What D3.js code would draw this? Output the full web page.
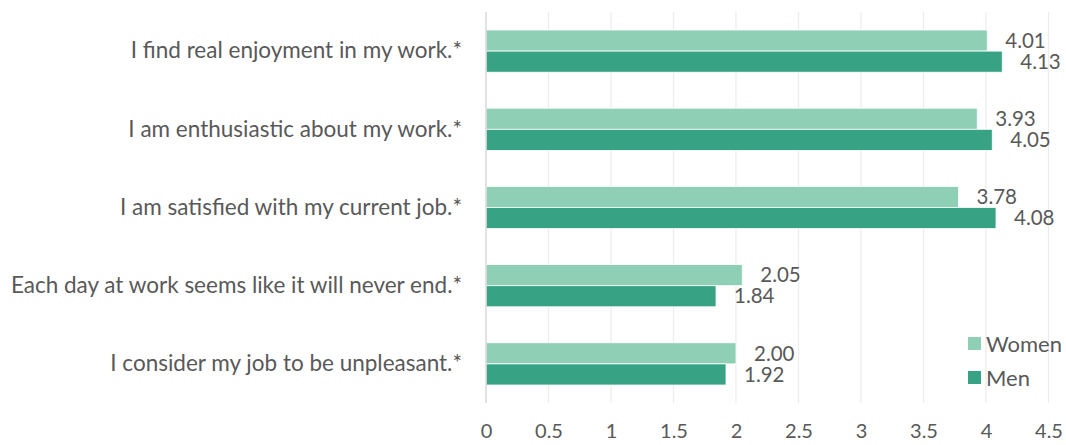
<!DOCTYPE html>
<html>
<head>
<meta charset="utf-8">
<script src="https://cdn.jsdelivr.net/npm/d3@7/dist/d3.min.js"></script>
<style>
  html, body { margin: 0; padding: 0; background: #fff; }
  svg { display: block; }
  text { font-family: Lato, "Open Sans", sans-serif; fill: #595959; }
</style>
</head>
<body>
<svg id="chart" width="1066" height="445"></svg>
<script>
// Survey statements (top to bottom) and mean agreement by gender
const categories = [
  "I find real enjoyment in my work.*",
  "I am enthusiastic about my work.*",
  "I am satisfied with my current job.*",
  "Each day at work seems like it will never end.*",
  "I consider my job to be unpleasant.*"
];
const women = [4.01, 3.93, 3.78, 2.05, 2.00];
const men   = [4.13, 4.05, 4.08, 1.84, 1.92];
const seriesNames = ["Women", "Men"];
const xTicks = [0, 0.5, 1, 1.5, 2, 2.5, 3, 3.5, 4, 4.5];

const colors = { Women: "#8fcfb6", Men: "#38a384" };

const svg = d3.select("#chart");
const plot = { left: 486, right: 1048.5, top: 12, bottom: 403 };

const x = d3.scaleLinear().domain([0, 4.5]).range([plot.left, plot.right]);
const y = d3.scaleBand().domain(categories).range([plot.top, plot.bottom]).paddingInner(0.46).paddingOuter(0.23);
const ySub = d3.scaleBand().domain(seriesNames).range([0, y.bandwidth()]);

// vertical gridlines
svg.append("g")
  .selectAll("line")
  .data(xTicks.slice(1))
  .join("line")
  .attr("x1", d => x(d)).attr("x2", d => x(d))
  .attr("y1", plot.top).attr("y2", plot.bottom)
  .attr("stroke", "#ececec").attr("stroke-width", 1.2);

// x tick labels
const xAxis = d3.axisBottom(x).tickValues(xTicks).tickSize(0).tickPadding(0)
  .tickFormat(d => String(d));
const gx = svg.append("g").attr("transform", `translate(0,${plot.bottom + 21})`).call(xAxis);
gx.select(".domain").remove();
gx.selectAll("text").attr("font-size", 20).attr("fill", "#595959").attr("dy", "0.7em")
  .style("font-family", "Lato, 'Open Sans', sans-serif");

// category labels
const yAxis = d3.axisLeft(y).tickSize(0).tickPadding(24);
const gy = svg.append("g").attr("transform", `translate(${plot.left},0)`).call(yAxis);
gy.select(".domain").remove();
gy.selectAll("text").attr("font-size", 22.5).attr("fill", "#595959")
  .style("font-family", "Lato, 'Open Sans', sans-serif");

// bars
const rows = categories.map((c, i) => ({ cat: c, vals: [
  { s: "Women", v: women[i] }, { s: "Men", v: men[i] } ] }));

const groups = svg.append("g").selectAll("g")
  .data(rows).join("g")
  .attr("transform", d => `translate(0,${y(d.cat)})`);

groups.selectAll("rect")
  .data(d => d.vals).join("rect")
  .attr("x", x(0))
  .attr("y", d => ySub(d.s))
  .attr("width", d => x(d.v) - x(0))
  .attr("height", ySub.bandwidth())
  .attr("fill", d => colors[d.s])
  .attr("stroke", "#fff").attr("stroke-width", 0.8);

groups.selectAll("text.val")
  .data(d => d.vals).join("text")
  .attr("class", "val")
  .attr("x", d => x(d.v) + 18)
  .attr("y", d => ySub(d.s) + ySub.bandwidth() / 2)
  .attr("dy", "0.35em")
  .attr("font-size", 20.5)
  .text(d => d.v.toFixed(2));

// zero axis line
svg.append("line")
  .attr("x1", x(0)).attr("x2", x(0))
  .attr("y1", plot.top).attr("y2", plot.bottom)
  .attr("stroke", "#d9d9d9").attr("stroke-width", 1.5);

// legend
const legend = svg.append("g").attr("transform", "translate(968,337)");
const li = legend.selectAll("g").data(seriesNames).join("g")
  .attr("transform", (d, i) => `translate(0,${i * 34})`);
li.append("rect").attr("width", 13).attr("height", 13).attr("fill", d => colors[d]);
li.append("text").attr("x", 18).attr("y", 7).attr("dy", "0.35em")
  .attr("font-size", 22).text(d => d);
</script>
</body>
</html>
